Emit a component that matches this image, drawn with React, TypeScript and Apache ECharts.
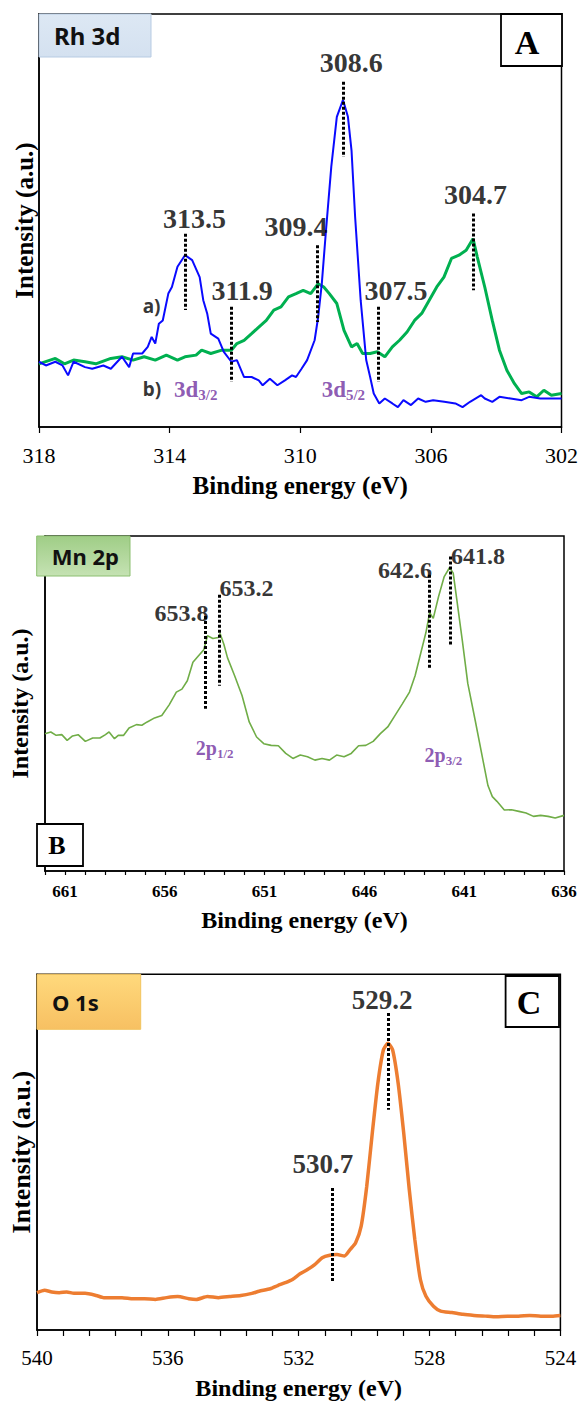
import React, { useEffect, useRef } from 'react';
import * as echarts from 'echarts';

// ---------- Panel A : Rh 3d ----------
const rhBlueEnergy = [318.0,317.79,317.5,317.28,317.11,316.94,316.59,316.37,316.03,315.8,315.46,315.24,315.12,314.84,314.67,314.55,314.44,314.33,314.21,314.04,313.93,313.76,313.53,313.31,313.08,312.97,312.85,312.74,312.51,312.34,312.11,311.94,311.72,311.49,311.27,311.15,310.93,310.7,310.47,310.25,310.13,309.96,309.79,309.56,309.45,309.34,309.22,309.05,308.88,308.69,308.54,308.43,308.32,308.15,307.98,307.86,307.75,307.58,307.41,307.18,307.01,306.84,306.61,306.39,306.16,305.93,305.59,305.25,305.03,304.8,304.46,304.35,304.12,303.9,303.56,303.22,302.99,302.65,302.31,302.0];
const rhBlueIntensity = [15.8,14.9,15.8,14.9,12.5,15.8,14.5,14.1,14.9,14.1,17.0,14.5,17.8,17.8,19.4,21.8,20.2,25.0,25.8,32.3,33.9,38.8,41.6,40.4,36.3,30.7,27.5,22.6,21.4,18.2,15.8,16.2,12.1,12.1,11.3,10.1,11.7,10.1,11.3,12.5,12.1,14.1,16.2,21.0,26.7,34.7,46.8,63.0,75.1,79.2,75.1,67.0,50.9,30.7,16.2,12.1,8.1,5.7,6.9,5.7,4.8,6.5,5.3,6.9,6.1,6.5,6.1,5.7,4.8,6.1,7.7,6.9,6.1,7.3,6.9,6.5,7.3,6.9,6.9,6.9];
const rhGreenEnergy = [318.0,317.5,317.22,316.94,316.59,316.26,315.8,315.46,315.12,314.78,314.44,314.1,313.76,313.53,313.19,313.02,312.74,312.4,312.11,311.94,311.72,311.49,311.27,311.04,310.81,310.59,310.36,310.13,309.91,309.68,309.45,309.28,309.11,308.88,308.66,308.43,308.26,308.09,307.86,307.64,307.41,307.18,306.96,306.73,306.5,306.28,306.05,305.82,305.6,305.37,305.14,304.92,304.71,304.58,304.35,304.12,303.9,303.67,303.44,303.22,302.99,302.76,302.54,302.31,302.0];
const rhGreenIntensity = [15.3,16.6,15.3,16.2,15.8,15.3,16.6,17.0,16.2,17.0,16.2,17.4,16.2,17.0,17.4,18.6,17.8,18.6,18.6,20.2,21.0,22.6,24.2,25.8,28.3,29.1,31.5,32.3,33.1,32.3,34.7,33.9,32.3,29.9,23.4,19.4,20.2,17.8,17.8,18.2,17.0,19.4,21.0,23.0,25.8,27.5,30.7,33.9,36.3,40.8,41.6,42.8,45.6,41.2,33.9,25.8,18.6,13.7,10.5,8.1,8.5,7.3,8.9,7.7,8.1];
const rhPeakLabels = ['313.5', '308.6', '309.4', '311.9', '307.5', '304.7'];
const rhPeakLabelX = [313.24, 308.44, 310.13, 311.78, 307.07, 304.63];
const rhPeakLabelY = [50.5, 88.2, 48.5, 33.1, 33.1, 56.3];
const rhMarkerX = [313.53, 308.69, 309.48, 312.1, 307.62, 304.71];
const rhMarkerTop = [46.8, 83.6, 44.0, 29.1, 29.1, 51.7];
const rhMarkerBottom = [28.3, 65.4, 25.4, 10.9, 10.9, 33.1];
const rhCurveTags = ['a)', 'b)'];
const rhCurveTagX = [314.84, 314.84];
const rhCurveTagY = [29.3, 9.1];
const rhOrbitalMain = ['3d', '3d'];
const rhOrbitalSub = ['3/2', '5/2'];
const rhOrbitalX = [313.88, 309.36];
const rhOrbitalY = [9.1, 9.1];
const rhAxisMin = 302;
const rhAxisMax = 318;
const rhAxisStep = 4;

// ---------- Panel B : Mn 2p ----------
const mnEnergy = [662.0,661.71,661.44,661.16,660.89,660.62,660.34,659.98,659.61,659.25,658.97,658.79,658.52,658.33,658.06,657.79,657.42,657.15,656.88,656.51,656.15,655.78,655.42,655.14,654.87,654.59,654.32,654.05,653.86,653.59,653.32,653.23,653.04,652.86,652.5,652.13,651.77,651.4,651.04,650.67,650.31,649.94,649.58,649.21,648.85,648.48,648.12,647.75,647.39,647.02,646.66,646.29,645.93,645.56,645.2,644.83,644.47,644.1,643.74,643.46,643.19,642.92,642.73,642.55,642.28,642.0,641.73,641.55,641.37,641.09,640.82,640.45,640.09,639.81,639.59,639.36,638.99,638.63,638.26,637.9,637.53,637.17,636.8,636.44,636.0];
const mnIntensity = [41.0,41.5,40.5,40.7,39.0,40.3,40.7,38.7,39.7,39.7,40.7,41.5,39.5,40.5,40.5,42.7,43.7,43.5,44.5,45.7,46.4,49.6,53.4,54.3,56.8,62.3,64.2,66.0,70.2,69.4,69.7,70.9,67.7,63.7,58.3,52.4,44.5,40.0,38.0,37.5,37.4,35.1,33.6,34.6,34.1,33.1,33.6,33.1,34.6,34.1,35.1,37.4,37.5,38.7,41.0,43.0,46.4,49.9,53.4,58.3,64.7,71.1,77.1,75.4,82.0,87.9,90.6,88.9,81.0,68.6,56.0,45.0,34.0,25.5,22.2,20.8,18.2,18.3,17.8,17.3,16.3,16.6,16.3,15.8,16.6];
const mnPeakLabels = ['653.8', '653.2', '642.6', '641.8'];
const mnPeakLabelX = [655.16, 651.91, 643.96, 640.31];
const mnPeakLabelY = [77.1, 84.4, 90.0, 94.0];
const mnMarkerX = [653.99, 653.28, 642.77, 641.68];
const mnMarkerTop = [76.1, 82.5, 88.4, 93.9];
const mnMarkerBottom = [48.4, 55.3, 60.3, 67.2];
const mnOrbitalMain = ['2p', '2p'];
const mnOrbitalSub = ['1/2', '3/2'];
const mnOrbitalX = [654.47, 643.01];
const mnOrbitalY = [36.6, 34.6];
const mnAxisMin = 636;
const mnAxisMax = 662;
const mnLabelStep = 5;

// ---------- Panel C : O 1s ----------
const oEnergy = [540.0,539.77,539.55,539.32,539.09,538.87,538.53,538.19,537.96,537.74,537.4,537.06,536.72,536.38,536.04,535.7,535.36,535.13,534.79,534.45,534.11,533.77,533.43,533.21,532.87,532.64,532.41,532.19,531.96,531.73,531.51,531.28,531.05,530.83,530.6,530.43,530.26,530.09,529.92,529.75,529.58,529.41,529.27,529.13,528.96,528.79,528.62,528.45,528.28,528.11,527.88,527.66,527.32,526.98,526.64,526.3,525.96,525.62,525.28,524.94,524.6,524.26,524.0];
const oIntensity = [10.5,11.2,10.7,10.5,10.7,10.3,10.3,9.7,9.1,9.1,9.1,8.8,8.8,8.6,9.1,9.4,8.8,8.6,9.4,9.1,9.4,9.7,10.3,10.9,11.6,12.5,13.3,14.2,15.8,17.0,18.4,20.3,21.0,21.2,20.8,22.6,24.5,29.2,40.4,55.4,69.4,78.8,80.6,78.8,69.4,55.4,39.5,25.4,14.2,9.5,6.7,5.3,4.9,4.4,4.1,3.9,3.7,3.9,3.9,4.1,3.9,3.9,4.1];
const oPeakLabels = ['529.2', '530.7'];
const oPeakLabelX = [529.45, 531.26];
const oPeakLabelY = [92.8, 46.8];
const oMarkerX = [529.27, 530.96];
const oMarkerTop = [89.1, 39.9];
const oMarkerBottom = [61.9, 13.3];
const oAxisMin = 524;
const oAxisMax = 540;
const oAxisStep = 4;

const SERIF = 'Liberation Serif';
const SANS = 'Noto Sans';
const PURPLE = '#7030a0';

const zip = (xs: number[], ys: number[]) => xs.map((x, i) => [x, ys[i]]);

function markerLines(xs: number[], tops: number[], bottoms: number[]) {
  return {
    silent: true,
    symbol: ['none', 'none'],
    label: { show: false },
    emphasis: { disabled: true },
    lineStyle: { color: '#000', type: [3, 2], width: 3, opacity: 1 },
    data: xs.map((x, i) => [{ coord: [x, tops[i]] }, { coord: [x, bottoms[i]] }]),
  };
}

function peakLabels(idx: number, texts: string[], xs: number[], ys: number[], fontSize: number) {
  return {
    type: 'scatter',
    xAxisIndex: idx,
    yAxisIndex: idx,
    symbolSize: 1,
    silent: true,
    itemStyle: { color: 'rgba(0,0,0,0)' },
    label: { show: true, position: 'inside', fontFamily: SERIF, fontWeight: 'bold', fontSize, color: '#000' },
    data: texts.map((t, i) => ({ value: [xs[i], ys[i]], label: { formatter: t } })),
    z: 6,
  };
}

function orbitalLabels(idx: number, mains: string[], subs: string[], xs: number[], ys: number[], main: number, sub: number, pad: number) {
  return {
    type: 'scatter',
    xAxisIndex: idx,
    yAxisIndex: idx,
    symbolSize: 1,
    silent: true,
    itemStyle: { color: 'rgba(0,0,0,0)' },
    label: {
      show: true,
      position: 'right',
      distance: 0,
      rich: {
        m: { fontFamily: SERIF, fontWeight: 'bold', fontSize: main, color: PURPLE },
        s: { fontFamily: SERIF, fontWeight: 'bold', fontSize: sub, color: PURPLE, padding: [pad, 0, 0, 0] },
      },
    },
    data: mains.map((m, i) => ({ value: [xs[i], ys[i]], label: { formatter: `{m|${m}}{s|${subs[i]}}` } })),
    z: 6,
  };
}

const axisLineStyle = { color: '#000', width: 1.5 };

function xAxis(idx: number, min: number, max: number, interval: number, opts: any) {
  return {
    gridIndex: idx,
    type: 'value',
    inverse: true,
    min,
    max,
    interval,
    axisLine: { show: true, onZero: false, lineStyle: axisLineStyle },
    axisTick: { show: true, length: opts.tickLen, lineStyle: { color: '#000', width: 1.2 } },
    minorTick: opts.minor ? { show: true, splitNumber: opts.minor, length: opts.tickLen, lineStyle: { color: '#000', width: 1.2 } } : { show: false },
    splitLine: { show: false },
    axisLabel: {
      margin: opts.margin,
      fontFamily: SERIF,
      fontSize: opts.labelSize,
      fontWeight: opts.labelBold ? 'bold' : 'normal',
      color: '#000',
      formatter: opts.formatter,
    },
    name: 'Binding energy (eV)',
    nameLocation: 'middle',
    nameGap: opts.nameGap,
    nameTextStyle: { fontFamily: SERIF, fontWeight: 'bold', fontSize: opts.nameSize, color: '#000' },
  };
}

function yAxis(idx: number, nameGap: number, nameSize: number) {
  return {
    gridIndex: idx,
    type: 'value',
    min: 0,
    max: 100,
    axisLine: { show: true, lineStyle: axisLineStyle },
    axisTick: { show: false },
    axisLabel: { show: false },
    splitLine: { show: false },
    name: 'Intensity (a.u.)',
    nameLocation: 'middle',
    nameGap,
    nameTextStyle: { fontFamily: SERIF, fontWeight: 'bold', fontSize: nameSize, color: '#000' },
  };
}

function tag(x: number, y: number, w: number, h: number, text: string, fontSize: number, c1: string, c2: string, stroke: string) {
  return [
    {
      type: 'rect',
      z: 50,
      shape: { x, y, width: w, height: h },
      style: {
        fill: new echarts.graphic.LinearGradient(0, 0, 0, 1, [
          { offset: 0, color: c1 },
          { offset: 1, color: c2 },
        ]),
        stroke,
        lineWidth: 1,
      },
    },
    {
      type: 'text',
      z: 51,
      x: x + 15,
      y: y + h / 2,
      style: { text, fontFamily: SANS, fontWeight: 'bold', fontSize, fill: '#111', verticalAlign: 'middle', textVerticalAlign: 'middle' },
    },
  ];
}

function letterBox(x: number, y: number, w: number, h: number, letter: string, cx: number, cy: number, fontSize: number) {
  return [
    { type: 'rect', z: 50, shape: { x, y, width: w, height: h }, style: { fill: '#fff', stroke: '#000', lineWidth: 1.8 } },
    {
      type: 'text',
      z: 51,
      x: cx,
      y: cy,
      style: { text: letter, fontFamily: SERIF, fontWeight: 'bold', fontSize, fill: '#000', align: 'center', verticalAlign: 'middle', textAlign: 'center', textVerticalAlign: 'middle' },
    },
  ];
}

function buildOption() {
  const gridBase = { show: true, borderColor: '#000', borderWidth: 1.5, backgroundColor: 'rgba(0,0,0,0)' };
  return {
    animation: false,
    textStyle: { fontFamily: SERIF },
    grid: [
      { ...gridBase, left: 39, top: 14, width: 523, height: 413 },
      { ...gridBase, left: 36.7, top: 536, width: 527.3, height: 335 },
      { ...gridBase, left: 37, top: 974.3, width: 523.4, height: 356.4 },
    ],
    xAxis: [
      xAxis(0, rhAxisMin, rhAxisMax, rhAxisStep, { tickLen: 6, margin: 17, labelSize: 22, nameGap: 46, nameSize: 25 }),
      xAxis(1, mnAxisMin, mnAxisMax, 1, {
        tickLen: 4,
        margin: 12,
        labelSize: 17,
        labelBold: true,
        nameGap: 37,
        nameSize: 24,
        formatter: (v: number) => ((v - mnAxisMin) % mnLabelStep === 0 ? String(v) : ''),
      }),
      xAxis(2, oAxisMin, oAxisMax, oAxisStep, { tickLen: 6, minor: 5, margin: 17, labelSize: 21, nameGap: 46, nameSize: 24 }),
    ],
    yAxis: [yAxis(0, 2, 25), yAxis(1, 13, 24), yAxis(2, 3, 26)],
    series: [
      {
        type: 'line',
        xAxisIndex: 0,
        yAxisIndex: 0,
        data: zip(rhGreenEnergy, rhGreenIntensity),
        showSymbol: false,
        symbol: 'none',
        lineStyle: { color: '#00b050', width: 3 },
        z: 2,
      },
      {
        type: 'line',
        xAxisIndex: 0,
        yAxisIndex: 0,
        data: zip(rhBlueEnergy, rhBlueIntensity),
        showSymbol: false,
        symbol: 'none',
        lineStyle: { color: '#0a0aff', width: 2 },
        z: 3,
        markLine: markerLines(rhMarkerX, rhMarkerTop, rhMarkerBottom),
      },
      peakLabels(0, rhPeakLabels, rhPeakLabelX, rhPeakLabelY, 28),
      {
        type: 'scatter',
        xAxisIndex: 0,
        yAxisIndex: 0,
        symbolSize: 1,
        silent: true,
        itemStyle: { color: 'rgba(0,0,0,0)' },
        label: { show: true, position: 'right', distance: 0, fontFamily: SANS, fontWeight: 'bold', fontSize: 19, color: '#000' },
        data: rhCurveTags.map((t, i) => ({ value: [rhCurveTagX[i], rhCurveTagY[i]], label: { formatter: t } })),
        z: 6,
      },
      orbitalLabels(0, rhOrbitalMain, rhOrbitalSub, rhOrbitalX, rhOrbitalY, 23, 15, 12),
      {
        type: 'line',
        xAxisIndex: 1,
        yAxisIndex: 1,
        data: zip(mnEnergy, mnIntensity),
        showSymbol: false,
        symbol: 'none',
        lineStyle: { color: '#70ad47', width: 1.6 },
        z: 2,
        markLine: markerLines(mnMarkerX, mnMarkerTop, mnMarkerBottom),
      },
      peakLabels(1, mnPeakLabels, mnPeakLabelX, mnPeakLabelY, 24),
      orbitalLabels(1, mnOrbitalMain, mnOrbitalSub, mnOrbitalX, mnOrbitalY, 20, 13, 10),
      {
        type: 'line',
        xAxisIndex: 2,
        yAxisIndex: 2,
        data: zip(oEnergy, oIntensity),
        showSymbol: false,
        symbol: 'none',
        smooth: 0.2,
        lineStyle: { color: '#ed7d31', width: 3.5 },
        z: 2,
        markLine: markerLines(oMarkerX, oMarkerTop, oMarkerBottom),
      },
      peakLabels(2, oPeakLabels, oPeakLabelX, oPeakLabelY, 27),
    ],
    graphic: [
      ...tag(39, 14, 112, 43, 'Rh 3d', 24, '#dde8f4', '#d4e1f0', '#b7cbe3'),
      ...letterBox(501, 14, 61, 52, 'A', 527, 42, 34),
      ...tag(36.7, 536, 93.3, 40, 'Mn 2p', 22, '#9fcd86', '#c5e2b3', '#8cbf70'),
      ...letterBox(37, 824, 46, 42, 'B', 57, 845, 26),
      ...tag(37, 974.3, 103.7, 55, 'O 1s', 22, '#ffd97c', '#f7c062', '#f2c45e'),
      ...letterBox(505.6, 976, 53.4, 51, 'C', 529, 1002, 34),
    ],
  };
}

export default function App() {
  const ref = useRef<HTMLDivElement>(null);
  useEffect(() => {
    document.body.style.margin = '0';
    const chart = echarts.init(ref.current as HTMLDivElement, null, { renderer: 'svg' });
    chart.setOption(buildOption() as any);
    return () => chart.dispose();
  }, []);
  return <div ref={ref} style={{ width: 581, height: 1401 }} />;
}
